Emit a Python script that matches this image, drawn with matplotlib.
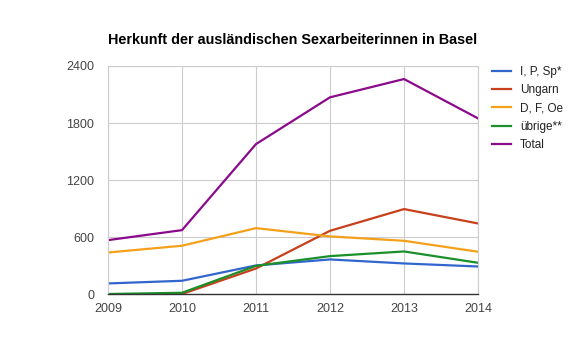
import matplotlib.pyplot as plt

plt.rcParams['font.family'] = ['Liberation Sans', 'DejaVu Sans']

# Data
years = [2009, 2010, 2011, 2012, 2013, 2014]
ipsp = [116, 144, 305, 368, 326, 294]
ungarn = [0, 5, 273, 669, 897, 746]
dfoe = [441, 512, 697, 610, 564, 449]
uebrige = [5, 18, 301, 403, 452, 333]
total = [571, 676, 1580, 2071, 2263, 1850]

labels = ['I, P, Sp*', 'Ungarn', 'D, F, Oe', 'übrige**', 'Total']
colors = ['#3366cc', '#c8401c', '#f5a01a', '#1a8f2a', '#8a0a8a']
series = [ipsp, ungarn, dfoe, uebrige, total]

fig = plt.figure(figsize=(5.82, 3.52), dpi=100)
ax = fig.add_axes([0.1856, 0.1634, 0.6357, 0.6491])

for vals, lab, col in zip(series, labels, colors):
    ax.plot(years, vals, color=col, lw=1.6, label=lab, solid_joinstyle='round')

ax.set_xlim(2009, 2014)
ax.set_ylim(0, 2400)
ax.set_xticks(years)
ax.set_yticks([0, 600, 1200, 1800, 2400])
ax.grid(True, color='#cccccc', lw=0.8)
ax.set_axisbelow(True)
for s in ['top', 'right', 'left']:
    ax.spines[s].set_color('#cccccc')
    ax.spines[s].set_linewidth(0.8)
ax.spines['bottom'].set_color('#333333')
ax.spines['bottom'].set_linewidth(1.0)
ax.tick_params(length=0, labelsize=9, colors='#444444')
ax.tick_params(axis='y', pad=10)
ax.tick_params(axis='x', pad=6)

fig.text(0.503, 0.885, 'Herkunft der ausländischen Sexarbeiterinnen in Basel',
         ha='center', va='center', fontsize=10.4, fontweight='bold', color='#000000')

ax.legend(loc='upper left', bbox_to_anchor=(1.01, 1.045), frameon=False,
          fontsize=8.5, handlelength=1.6, handletextpad=0.75, labelspacing=0.52,
          labelcolor='#222222')

fig.savefig('out.png', dpi=100)
